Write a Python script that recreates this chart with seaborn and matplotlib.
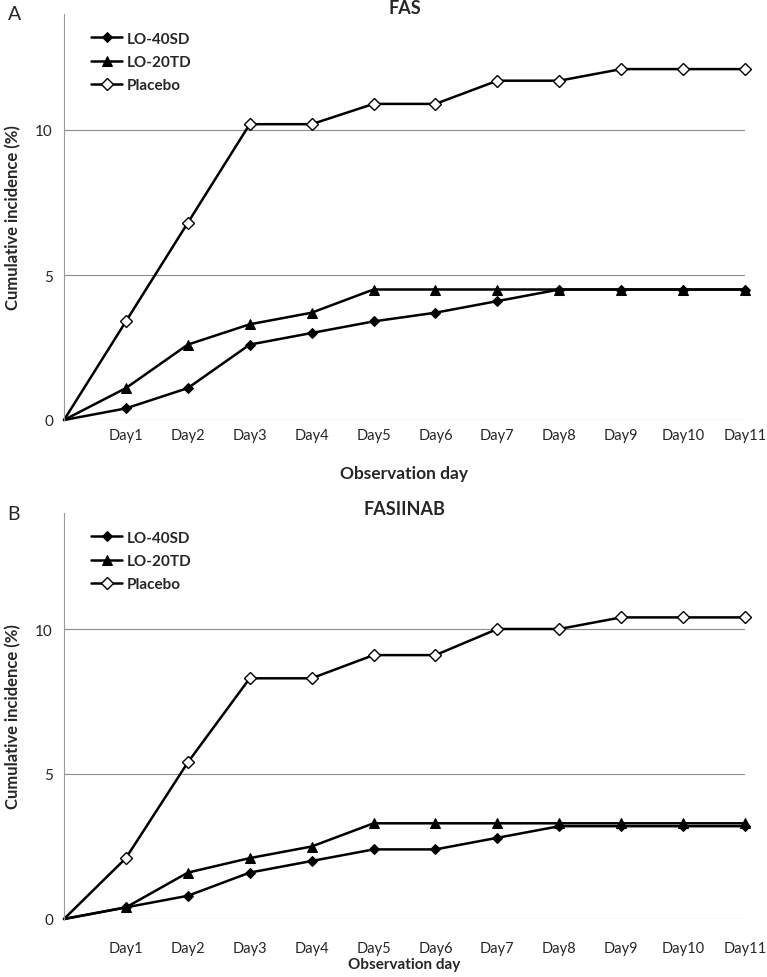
import matplotlib
matplotlib.use("Agg")
import matplotlib.pyplot as plt
import pandas as pd
import seaborn as sns

days = list(range(0, 12))
day_labels = [f"Day{d}" for d in range(1, 12)]

fas_40sd = [0, 0.4, 1.1, 2.6, 3.0, 3.4, 3.7, 4.1, 4.5, 4.5, 4.5, 4.5]
fas_20td = [0, 1.1, 2.6, 3.3, 3.7, 4.5, 4.5, 4.5, 4.5, 4.5, 4.5, 4.5]
fas_placebo = [0, 3.4, 6.8, 10.2, 10.2, 10.9, 10.9, 11.7, 11.7, 12.1, 12.1, 12.1]

nab_40sd = [0, 0.4, 0.8, 1.6, 2.0, 2.4, 2.4, 2.8, 3.2, 3.2, 3.2, 3.2]
nab_20td = [0, 0.4, 1.6, 2.1, 2.5, 3.3, 3.3, 3.3, 3.3, 3.3, 3.3, 3.3]
nab_placebo = [0, 2.1, 5.4, 8.3, 8.3, 9.1, 9.1, 10.0, 10.0, 10.4, 10.4, 10.4]

sns.set_style("white")
plt.rcParams["font.family"] = ["Lato", "DejaVu Sans"]

fig = plt.figure(figsize=(7.67, 9.78), dpi=100)
W, H = 767, 978
ax_a = fig.add_axes([64 / W, (H - 421) / H, (745 - 64) / W, 406 / H])
ax_b = fig.add_axes([64 / W, (H - 920) / H, (745 - 64) / W, 406 / H])

styles = {
    "LO-40SD": dict(marker="D", markersize=5.5, markerfacecolor="black", markeredgecolor="black"),
    "LO-20TD": dict(marker="^", markersize=7, markerfacecolor="black", markeredgecolor="black"),
    "Placebo": dict(marker="D", markersize=6.5, markerfacecolor="white", markeredgecolor="black",
                    markeredgewidth=1.0),
}


def draw_panel(ax, series, title, letter, tick_pad, xlabel_pad, xlabel_size, title_y):
    df = pd.DataFrame({"day": days, **series})
    for name in series:
        sns.lineplot(x=df["day"], y=df[name], ax=ax, color="black", linewidth=1.8,
                     markevery=list(range(1, 12)), label=name, clip_on=False, **styles[name])
    ax.set_xlim(0, 11)
    ax.set_ylim(0, 14)
    ax.set_yticks([0, 5, 10])
    ax.set_yticklabels(["0", "5", "10"], fontsize=11)
    ax.set_xticks(range(1, 12))
    ax.set_xticklabels(day_labels, fontsize=10.5)
    ax.tick_params(axis="both", length=0, pad=8)
    ax.tick_params(axis="x", pad=tick_pad)
    ax.grid(axis="y", color="#8c8c8c", linewidth=0.8)
    ax.grid(axis="x", visible=False)
    ax.set_axisbelow(True)
    for side in ["top", "right", "bottom"]:
        ax.spines[side].set_visible(False)
    ax.spines["left"].set_color("#9a9a9a")
    ax.spines["left"].set_linewidth(0.8)
    ax.set_xlabel("Observation day", fontsize=xlabel_size, fontweight="bold", labelpad=xlabel_pad)
    ax.set_ylabel("Cumulative incidence (%)", fontsize=12, fontweight="bold", labelpad=10)
    ax.text(0.5, title_y, title, transform=ax.transAxes, fontsize=13, fontweight="bold",
            ha="center", va="center")
    ax.text(-0.083, 1.0, letter, transform=ax.transAxes, fontsize=14, va="center", ha="left")
    leg = ax.legend(loc="upper left", bbox_to_anchor=(0.02, 0.99), frameon=False,
                    handlelength=2.0, handletextpad=0.3, labelspacing=0.6, fontsize=11)
    for t in leg.get_texts():
        t.set_fontweight("bold")


draw_panel(ax_a, {"LO-40SD": fas_40sd, "LO-20TD": fas_20td, "Placebo": fas_placebo},
           "FAS", "A", 6, 16, 12.5, 1.017)
draw_panel(ax_b, {"LO-40SD": nab_40sd, "LO-20TD": nab_20td, "Placebo": nab_placebo},
           "FASIINAB", "B", 16, 1, 11, 1.01)

fig.savefig("out.png", dpi=100)
